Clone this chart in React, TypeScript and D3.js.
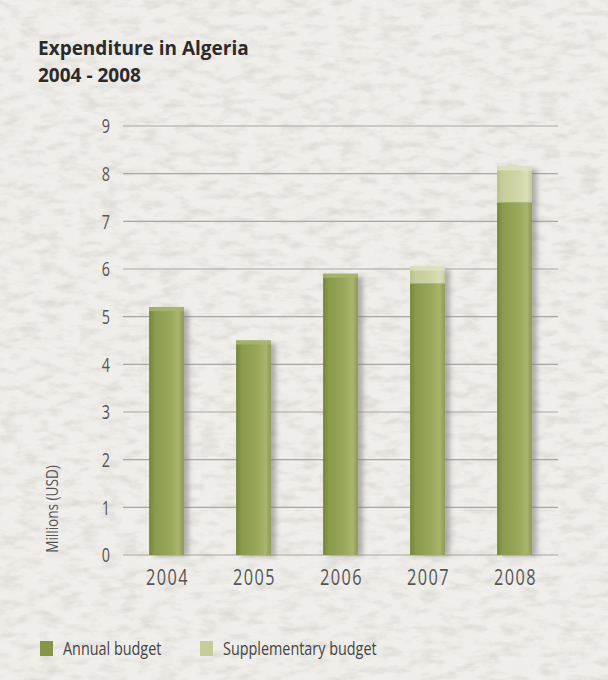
import React, { useEffect, useRef } from "react";
import * as d3 from "d3";

const years = ["2004", "2005", "2006", "2007", "2008"];
const annualBudget = [5.2, 4.5, 5.9, 5.7, 7.4];
const supplementaryBudget = [0, 0, 0, 0.35, 0.75];
const yTicks = [0, 1, 2, 3, 4, 5, 6, 7, 8, 9];
const seriesNames = ["Annual budget", "Supplementary budget"];

const App = () => {
  const chartRef = useRef<SVGSVGElement | null>(null);

  useEffect(() => {
    const width = 608;
    const height = 680;
    const left = 123;
    const right = 558;
    const top = 126;
    const bottom = 555;
    // no condensed face installed, so squeeze Open Sans horizontally
    const font = "'Open Sans', sans-serif";

    const svg = d3.select(chartRef.current).attr("width", width).attr("height", height);

    const defs = svg.append("defs");

    // paper texture
    const paper = defs.append("filter").attr("id", "paper").attr("x", 0).attr("y", 0).attr("width", "100%").attr("height", "100%");
    paper.append("feTurbulence").attr("type", "fractalNoise").attr("baseFrequency", "0.05 0.12").attr("numOctaves", 4).attr("seed", 7).attr("result", "noise");
    paper
      .append("feColorMatrix")
      .attr("in", "noise")
      .attr("type", "matrix")
      .attr("values", "0 0 0 0 0.6  0 0 0 0 0.58  0 0 0 0 0.55  0 0 0 -1.1 0.62")
      .attr("result", "tex");
    paper.append("feComposite").attr("in", "tex").attr("in2", "SourceGraphic").attr("operator", "in");

    const shadow = defs.append("filter").attr("id", "shadow").attr("x", "-50%").attr("y", "-10%").attr("width", "200%").attr("height", "120%");
    shadow.append("feGaussianBlur").attr("stdDeviation", 2.5);

    const makeGrad = (id: string, stops: [number, string][]) => {
      const g = defs.append("linearGradient").attr("id", id).attr("x1", 0).attr("x2", 1).attr("y1", 0).attr("y2", 0);
      stops.forEach(([o, c]) => g.append("stop").attr("offset", o).attr("stop-color", c));
    };
    makeGrad("annual", [
      [0, "#74843a"],
      [0.15, "#8a9a4b"],
      [0.6, "#98a75a"],
      [0.85, "#a9b56c"],
      [1, "#8d9a50"],
    ]);
    makeGrad("supp", [
      [0, "#b7c087"],
      [0.15, "#c6cd9b"],
      [0.6, "#cfd5a6"],
      [0.85, "#dadfb8"],
      [1, "#c5cc98"],
    ]);

    svg.append("rect").attr("width", width).attr("height", height).attr("fill", "#f0eeea");
    svg.append("rect").attr("width", width).attr("height", height).attr("fill", "#f0eeea").attr("filter", "url(#paper)");

    const x = d3.scaleBand().domain(years).range([left, right]).paddingInner(0.6).paddingOuter(0.3);
    const y = d3.scaleLinear().domain([0, 9]).range([bottom, top]);

    // grid
    svg
      .append("g")
      .selectAll("line")
      .data(yTicks)
      .enter()
      .append("line")
      .attr("x1", left)
      .attr("x2", right)
      .attr("y1", (d) => y(d))
      .attr("y2", (d) => y(d))
      .attr("stroke", "#a9a7a4")
      .attr("stroke-width", 1.2);

    // y tick labels
    svg
      .append("g")
      .selectAll("text")
      .data(yTicks)
      .enter()
      .append("text")
      .attr("transform", (d) => `translate(110,${y(d)}) scale(0.72,1)`)
      .attr("dy", "0.36em")
      .attr("text-anchor", "end")
      .style("font-family", font)
      .style("font-size", "20px")
      .style("fill", "#555")
      .text((d) => d);

    // x tick labels
    svg
      .append("g")
      .selectAll("text")
      .data(years)
      .enter()
      .append("text")
      .attr("transform", (d) => `translate(${(x(d) as number) + x.bandwidth() / 2 + 1},585) scale(0.74,1)`)
      .attr("text-anchor", "middle")
      .style("font-family", font)
      .style("font-size", "22px")
      .style("letter-spacing", "2px")
      .style("fill", "#555")
      .text((d) => d);

    const table = years.map((yr, i) => ({ year: yr, annual: annualBudget[i], supp: supplementaryBudget[i] }));
    const stacked = d3.stack<any>().keys(["annual", "supp"])(table);

    // shadows
    svg
      .append("g")
      .selectAll("rect")
      .data(table)
      .enter()
      .append("rect")
      .attr("x", (d) => (x(d.year) as number) + 5)
      .attr("y", (d) => y(d.annual + d.supp) + 3)
      .attr("width", x.bandwidth())
      .attr("height", (d) => bottom - y(d.annual + d.supp) - 2)
      .attr("fill", "#7b7a78")
      .attr("opacity", 0.55)
      .attr("filter", "url(#shadow)");

    const layers = svg
      .append("g")
      .selectAll("g")
      .data(stacked)
      .enter()
      .append("g")
      .attr("fill", (d, i) => (i === 0 ? "url(#annual)" : "url(#supp)"));

    layers
      .selectAll("rect")
      .data((d) => d.filter((s) => s[1] - s[0] > 0))
      .enter()
      .append("rect")
      .attr("x", (d) => x(d.data.year) as number)
      .attr("y", (d) => y(d[1]))
      .attr("width", x.bandwidth())
      .attr("height", (d) => y(d[0]) - y(d[1]));

    // top bevel on each bar
    svg
      .append("g")
      .selectAll("rect")
      .data(table)
      .enter()
      .append("rect")
      .attr("x", (d) => x(d.year) as number)
      .attr("y", (d) => y(d.annual + d.supp))
      .attr("width", x.bandwidth())
      .attr("height", 4)
      .attr("fill", (d) => (d.supp > 0 ? "#e0e4c2" : "#aab672"))
      .attr("opacity", 0.8);

    // title
    const title = svg
      .append("text")
      .style("font-family", font)
      .style("font-weight", "bold")
      .style("font-size", "19px")
      .style("fill", "#2b2b2b");
    title.append("tspan").attr("x", 38).attr("y", 55).text("Expenditure in Algeria");
    title.append("tspan").attr("x", 38).attr("y", 82).text("2004 - 2008");

    // y axis title
    svg
      .append("text")
      .attr("transform", "translate(58,509) rotate(-90) scale(0.8,1)")
      .attr("text-anchor", "middle")
      .style("font-family", font)
      .style("font-size", "17px")
      .style("fill", "#555")
      .text("Millions (USD)");

    // legend
    const legend = svg
      .append("g")
      .selectAll("g")
      .data(seriesNames)
      .enter()
      .append("g")
      .attr("transform", (d, i) => `translate(${i === 0 ? 40 : 200},641)`);
    legend
      .append("rect")
      .attr("width", 13)
      .attr("height", 15)
      .attr("fill", (d, i) => (i === 0 ? "#86954a" : "#c6cd9b"));
    legend
      .append("text")
      .attr("transform", "translate(23,14) scale(0.8,1)")
      .style("font-family", font)
      .style("font-size", "18px")
      .style("fill", "#444")
      .text((d) => d);

    return () => {
      d3.select(chartRef.current).selectAll("*").remove();
    };
  }, []);

  return <svg ref={chartRef} style={{ position: "absolute", left: 0, top: 0, display: "block" }}></svg>;
};

export default App;
